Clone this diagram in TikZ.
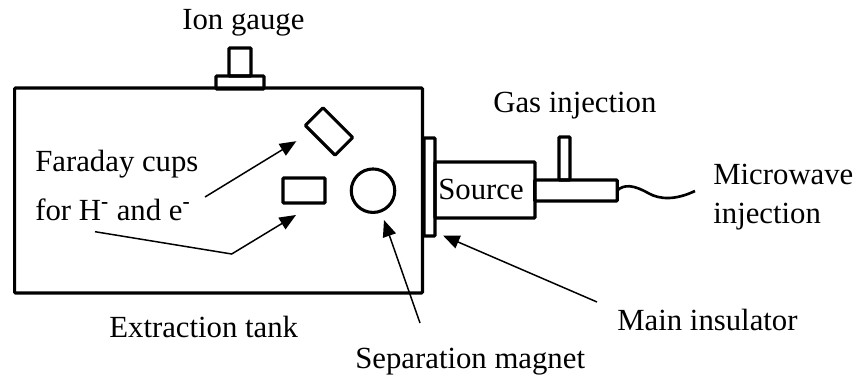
\documentclass[tikz,border=0pt]{standalone}
\usepackage{fontspec}
\setmainfont{Liberation Serif}
\usetikzlibrary{arrows.meta}
\newcommand{\minus}{\textsuperscript{\textbf{-}}}
\tikzset{
  part/.style={draw,line width=1.75pt,rounded corners=0.5pt,inner sep=0pt,outer sep=0pt},
  cup/.style={part,minimum width=0.84cm,minimum height=0.5cm},
  pointer/.style={line width=0.85pt,-{Triangle[length=0.33cm,width=0.27cm]}},
  label/.style={inner sep=0pt,anchor=base west,align=left,font=\fontsize{17.5}{21.6}\selectfont}
}
\begin{document}
\begin{tikzpicture}[x=0.02cm,y=-0.02cm]
  \useasboundingbox (0,0) rectangle (858,378);

  % extraction tank and gauge
  \node[part,minimum width=8.16cm,minimum height=4.1cm] (tank) at (218.5,190.5) {};
  \node[part,minimum width=0.44cm,minimum height=0.56cm] (gauge) at (240,62) {};
  \node[part,minimum width=0.96cm,minimum height=0.26cm] (flange) at (240,82.5) {};

  % inside the tank
  \node[cup,rotate=-45] (cup1) at (329,131.5) {};
  \node[cup] (cup2) at (304,190.5) {};
  \node[part,circle,minimum size=0.87cm] (magnet) at (373,190.7) {};

  % source side
  \node[part,minimum width=0.22cm,minimum height=1.96cm] (insulator) at (429.5,187) {};
  \node[part,minimum width=2cm,minimum height=1.12cm] (source) at (485,190) {};
  \node[part,minimum width=1.65cm,minimum height=0.42cm] (tube) at (576,190.5) {};
  \node[part,minimum width=0.22cm,minimum height=0.86cm] (gas) at (564.5,158.5) {};

  % labels
  \node[label] (gaugetext) at (182,30) {Ion gauge};
  \node[label] (cupstext) at (35,172) {Faraday cups};
  \node[label] (forcups) at (35,220) {for H\minus{} and e\minus};
  \node[label] (tanktext) at (109,337) {Extraction tank};
  \node[label] (magnettext) at (355,368) {Separation magnet};
  \node[label] at (438,199) (sourcetext) {Source};
  \node[label] (gastext) at (493,113) {Gas injection};
  \node[label] (wavetext) at (713,185) {Microwave};
  \node[label] (injtext) at (713,223) {injection};
  \node[label] (instext) at (617,330) {Main insulator};

  \coordinate (tail1) at (205,197);
  \coordinate (tail2) at (95,231.7);
  \coordinate (bend2) at (231.7,254);
  \coordinate (tail3) at (420,323);
  \coordinate (tail4) at (597,302);
  \coordinate (waveend) at (695,191);

  \draw[pointer] (tail1) -- ([shift={(-9,15.7)}]cup1.south west);
  \draw[pointer] (tail2) -- (bend2) -- ([shift={(13,12)}]cup2.south west);
  \draw[pointer] (tail3) -- ([shift={(11,7.6)}]magnet.south);
  \draw[pointer] (tail4) -- ([shift={(8,-0.5)}]insulator.south east);
  \draw[line width=1.5pt] (tube.east) .. controls (624,184) and (634,185) .. (648,193)
    .. controls (660,200) and (676,200) .. (waveend);
\end{tikzpicture}
\end{document}
